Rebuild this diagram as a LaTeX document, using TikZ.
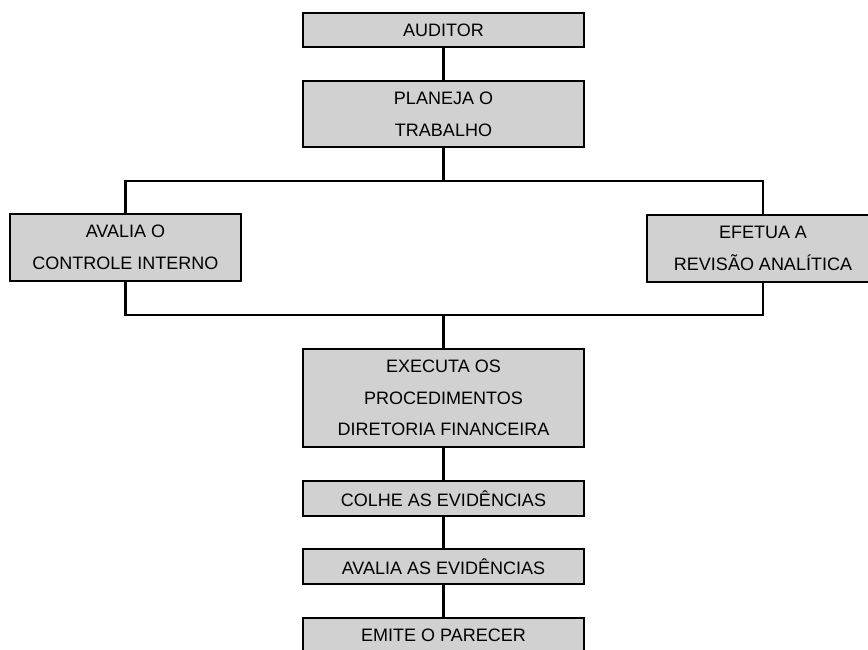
\documentclass[tikz,border=0pt]{standalone}
\usepackage{fontspec}
\setmainfont{Liberation Sans}
\usetikzlibrary{shapes}

\tikzset{
  stepbox/.style={shape=rectangle,draw=black,fill=black!18,align=center,line width=1.6pt,inner sep=0pt,font=\fontsize{12.8}{22.5}\selectfont},
  link/.style={-,draw=black,line width=1.6pt}
}

\begin{document}
\begin{tikzpicture}[x=0.025cm,y=-0.025cm]
\useasboundingbox (0,0) rectangle (868,650);
\clip (0,0) rectangle (868,650);
\node[stepbox,minimum width=7.025cm,minimum height=0.85cm] (0) at (443.5,30) {AUDITOR};
\node[stepbox,minimum width=7.025cm,minimum height=1.65cm] (1) at (443.5,114) {PLANEJA O\\TRABALHO};
\node[stepbox,minimum width=5.775cm,minimum height=1.675cm] (2) at (125.5,247.5) {AVALIA O\\CONTROLE INTERNO};
\node[stepbox,minimum width=5.8cm,minimum height=1.675cm] (3) at (763,248.5) {EFETUA A\\REVISÃO ANALÍTICA};
\node[stepbox,minimum width=7.025cm,minimum height=2.45cm] (4) at (443.5,398) {EXECUTA OS\\PROCEDIMENTOS\\DIRETORIA FINANCEIRA};
\node[stepbox,minimum width=7.025cm,minimum height=0.875cm] (5) at (443.5,498.5) {COLHE AS EVIDÊNCIAS};
\node[stepbox,minimum width=7.025cm,minimum height=0.875cm] (6) at (443.5,566.5) {AVALIA AS EVIDÊNCIAS};
\node[stepbox,minimum width=7.025cm,minimum height=0.875cm] (7) at (443.5,635.5) {EMITE O PARECER};

\coordinate (t) at (443.5,181);
\coordinate (b) at (443.5,315);

\path [link] (0) edge (1);
\path [link] (1.south) edge (t);
\draw [link] (2.north) |- (t);
\draw [link] (3.north) |- (t);
\draw [link] (2.south) |- (b);
\draw [link] (3.south) |- (b);
\path [link] (b) edge (4.north);
\path [link] (4) edge (5);
\path [link] (5) edge (6);
\path [link] (6) edge (7);
\end{tikzpicture}
\end{document}
